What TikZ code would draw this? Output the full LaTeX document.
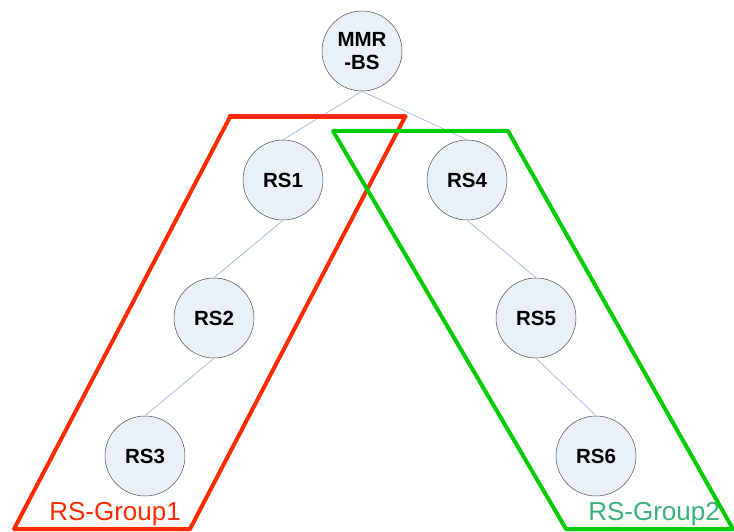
\documentclass[tikz,border=0pt]{standalone}
\usepackage{fontspec}
\setmainfont{Liberation Sans}
\usepackage{tkz-euclide}
\usepackage{tikz}
\definecolor{nodefill}{HTML}{EAF0F8}
\definecolor{linkblue}{HTML}{95B3D7}
\definecolor{groupred}{HTML}{FF2A00}
\definecolor{groupgreen}{HTML}{00CC00}
\definecolor{labelgreen}{HTML}{3CB07C}
\tikzset{
  rsnode/.style={circle, draw=black!70, fill=nodefill, line width=0.5pt,
    minimum size=80pt, inner sep=0pt, align=center,
    font=\fontsize{20.5}{23}\selectfont\bfseries},
  link/.style={draw=linkblue, line width=0.6pt},
  grouplabel/.style={font=\fontsize{26}{26}\selectfont, inner sep=0pt}
}
\begin{document}
\begin{tikzpicture}[x=10pt,y=10pt]
    \useasboundingbox (0,0) rectangle (73.4,53.1);
    \node[rsnode] (mmr) at (36.2,48.0) {MMR\\-BS};
    \node[rsnode] (rs1) at (28.3,35.1) {RS1};
    \node[rsnode] (rs2) at (21.4,21.3) {RS2};
    \node[rsnode] (rs3) at (14.5,7.5) {RS3};
    \node[rsnode] (rs4) at (46.7,35.1) {RS4};
    \node[rsnode] (rs5) at (53.6,21.3) {RS5};
    \node[rsnode] (rs6) at (59.6,7.5) {RS6};
    \draw[link] (mmr.south) -- (rs1.north);
    \draw[link] (mmr.south) -- (rs4.north);
    \draw[link] (rs1.south) -- (rs2.north);
    \draw[link] (rs2.south) -- (rs3.north);
    \draw[link] (rs4.south) -- (rs5.north);
    \draw[link] (rs5.south) -- (rs6.north);
    \tkzDefPoints{23.0/41.4/A,40.5/41.4/B,19.0/0.2/C,1.4/0.2/D}
    \tkzDefPoints{33.3/40.0/E,50.8/40.0/F,73.3/0.2/G,56.6/0.2/H}
    \tkzDrawPolygon[color=groupred,line width=4pt](A,B,C,D)
    \tkzDrawPolygon[color=groupgreen,line width=4pt](E,F,G,H)
    \tkzDrawSegments[color=groupred,line width=5pt](A,B)
    \node[grouplabel, text=groupred] (g1) at (11.5,1.7) {RS-Group1};
    \node[grouplabel, text=labelgreen] (g2) at (65.4,1.7) {RS-Group2};
\end{tikzpicture}
\end{document}
